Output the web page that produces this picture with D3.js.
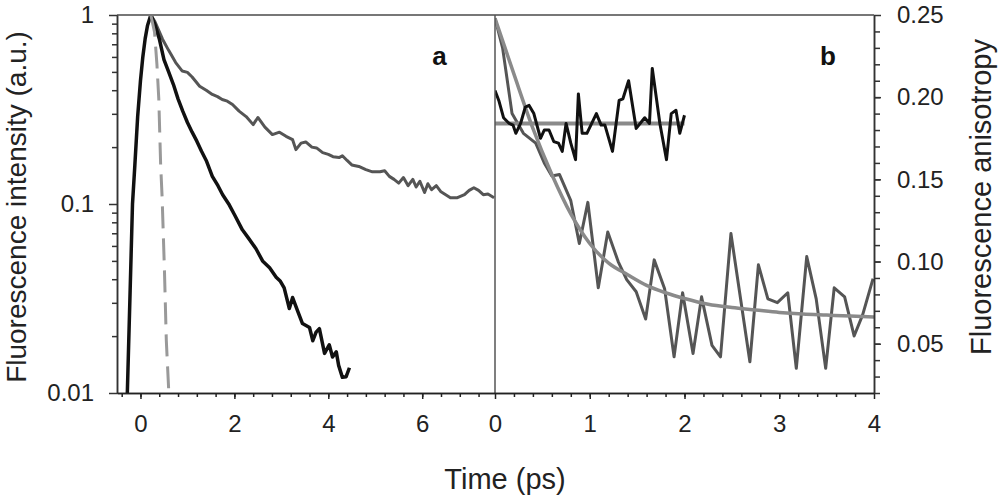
<!DOCTYPE html>
<html>
<head>
<meta charset="utf-8">
<script src="https://cdn.jsdelivr.net/npm/d3@7"></script>
<style>
  html, body { margin: 0; padding: 0; background: #fff; }
  svg { display: block; }
  text { font-family: "Liberation Sans", Arial, sans-serif; }
</style>
</head>
<body>
<svg id="chart" width="999" height="496"></svg>
<script>
// ---------------- DATA ----------------
// Panel a: fluorescence intensity decays (log scale)
const fastT = [-0.28,-0.22,-0.17,-0.12,-0.06,0.0,0.05,0.1,0.15,0.22,0.3,0.4,0.5,0.6,0.7,0.8,0.9,1.0,1.1,1.2,1.3,1.4,1.53,1.65,1.75,1.89,2.0,2.17,2.3,2.46,2.6,2.75,2.89,2.98,3.06,3.17,3.24,3.35,3.45,3.6,3.67,3.74,3.81,3.92,4.02,4.09,4.17,4.22,4.3,4.38,4.45];
const fastI = [0.01,0.035,0.1,0.16,0.29,0.45,0.6,0.75,0.88,1.0,0.9,0.75,0.58,0.5,0.43,0.36,0.31,0.27,0.24,0.215,0.19,0.17,0.14,0.125,0.112,0.099,0.088,0.073,0.066,0.058,0.05,0.046,0.041,0.039,0.036,0.028,0.032,0.027,0.0233,0.0222,0.0189,0.021,0.0219,0.0162,0.018,0.0155,0.0165,0.014,0.0121,0.0122,0.0136];

const slowT = [0.22,0.3,0.47,0.6,0.75,0.89,1.0,1.1,1.26,1.4,1.53,1.64,1.74,1.85,1.96,2.1,2.25,2.4,2.5,2.65,2.81,2.96,3.1,3.24,3.31,3.42,3.52,3.65,3.75,3.88,4.0,4.1,4.23,4.3,4.4,4.5,4.65,4.8,4.94,5.1,5.2,5.3,5.4,5.5,5.6,5.7,5.8,5.87,5.95,6.05,6.12,6.2,6.3,6.4,6.5,6.6,6.75,6.9,7.0,7.1,7.2,7.3,7.4,7.53];
const slowI = [1.0,0.93,0.745,0.65,0.56,0.505,0.497,0.47,0.42,0.40,0.38,0.37,0.357,0.35,0.336,0.31,0.29,0.263,0.287,0.255,0.233,0.24,0.228,0.219,0.194,0.21,0.213,0.2,0.198,0.187,0.183,0.178,0.176,0.18,0.17,0.161,0.158,0.152,0.148,0.148,0.15,0.14,0.135,0.129,0.138,0.125,0.135,0.123,0.132,0.115,0.128,0.119,0.125,0.116,0.112,0.108,0.108,0.112,0.118,0.122,0.118,0.112,0.113,0.108];

const irfT = [0.22,0.3,0.35,0.39,0.43,0.46,0.51,0.55,0.6,0.63];
const irfI = [1.0,0.81,0.55,0.36,0.16,0.11,0.045,0.019,0.0105,0.008];

// Panel b: fluorescence anisotropy
const anisoBlackT = [0,0.04,0.09,0.15,0.19,0.22,0.27,0.32,0.36,0.41,0.48,0.52,0.57,0.62,0.67,0.71,0.75,0.8,0.85,0.88,0.92,0.97,1.07,1.12,1.16,1.24,1.31,1.35,1.41,1.49,1.58,1.63,1.66,1.74,1.81,1.86,1.91,1.95,2.0];
const anisoBlackR = [0.204,0.198,0.1875,0.184,0.183,0.178,0.184,0.194,0.195,0.19,0.175,0.18,0.18,0.173,0.172,0.167,0.184,0.172,0.162,0.202,0.178,0.178,0.19,0.183,0.183,0.167,0.198,0.199,0.21,0.181,0.1875,0.184,0.2175,0.184,0.162,0.19,0.192,0.178,0.189];
const anisoBlackFitT = [0, 2];
const anisoBlackFitR = [0.184, 0.184];

const anisoGrayT = [0,0.08,0.18,0.3,0.43,0.52,0.6,0.68,0.8,0.89,0.98,1.09,1.19,1.3,1.39,1.49,1.59,1.68,1.79,1.89,1.98,2.09,2.18,2.29,2.38,2.49,2.69,2.78,2.88,2.98,3.09,3.18,3.29,3.39,3.49,3.58,3.69,3.79,3.88,3.99];
const anisoGrayR = [0.248,0.23,0.19,0.178,0.172,0.16,0.152,0.153,0.137,0.111,0.136,0.084,0.118,0.1,0.089,0.0816,0.065,0.101,0.0834,0.042,0.081,0.044,0.0785,0.049,0.042,0.117,0.039,0.098,0.0773,0.075,0.081,0.035,0.103,0.0773,0.035,0.084,0.0785,0.0547,0.0675,0.0896];
const anisoGrayFitT = [0,0.2,0.4,0.6,0.8,1.0,1.2,1.4,1.6,1.8,2.0,2.25,2.5,2.75,3.0,3.25,3.5,3.75,4.0];
const anisoGrayFitR = [0.248,0.214,0.181,0.153,0.129,0.111,0.099,0.092,0.0855,0.081,0.0775,0.074,0.072,0.0705,0.069,0.068,0.0674,0.0668,0.0663];

// Tick labels
const intensityTicks = [0.01, 0.1, 1];
const intensityTickLabels = ["0.01", "0.1", "1"];
const timeTicksA = [0, 2, 4, 6];
const timeTicksB = [0, 1, 2, 3, 4];
const anisoTicks = [0.05, 0.10, 0.15, 0.20, 0.25];
const anisoTickLabels = ["0.05", "0.10", "0.15", "0.20", "0.25"];

// ---------------- CHART ----------------
const svg = d3.select("#chart");
const L = 117, M = 495, R = 874, T = 15, B = 393;

const xA = d3.scaleLinear().domain([-0.5, 7.55]).range([L, M]);
const yA = d3.scaleLog().domain([0.01, 1]).range([B, T]);
const xB = d3.scaleLinear().domain([0, 4]).range([M, R]);
const yB = d3.scaleLinear().domain([0.02, 0.25]).range([B, T]);

const defs = svg.append("defs");
defs.append("clipPath").attr("id", "clipA").append("rect")
  .attr("x", L).attr("y", T).attr("width", M - L).attr("height", B - T);
defs.append("clipPath").attr("id", "clipB").append("rect")
  .attr("x", M).attr("y", T - 3).attr("width", R - M).attr("height", B - T + 3);

const zip = (a, b) => a.map((d, i) => [d, b[i]]);

// Panel a lines
const lineA = d3.line().x(d => xA(d[0])).y(d => yA(d[1]));
const gA = svg.append("g").attr("clip-path", "url(#clipA)");
gA.append("path").datum(zip(slowT, slowI)).attr("d", lineA)
  .attr("fill", "none").attr("stroke", "#555").attr("stroke-width", 3).attr("stroke-linejoin", "round");
gA.append("path").datum(zip(fastT, fastI)).attr("d", lineA)
  .attr("fill", "none").attr("stroke", "#111").attr("stroke-width", 3.5).attr("stroke-linejoin", "round");
gA.append("path").datum(zip(irfT, irfI)).attr("d", lineA)
  .attr("fill", "none").attr("stroke", "#999").attr("stroke-width", 3)
  .attr("stroke-dasharray", "22,10");

// Panel b lines
const lineB = d3.line().x(d => xB(d[0])).y(d => yB(d[1]));
const lineBsmooth = d3.line().x(d => xB(d[0])).y(d => yB(d[1])).curve(d3.curveMonotoneX);
const gB = svg.append("g").attr("clip-path", "url(#clipB)");
gB.append("path").datum(zip(anisoGrayT, anisoGrayR)).attr("d", lineB)
  .attr("fill", "none").attr("stroke", "#555").attr("stroke-width", 3).attr("stroke-linejoin", "round");
gB.append("path").datum(zip(anisoGrayFitT, anisoGrayFitR)).attr("d", lineBsmooth)
  .attr("fill", "none").attr("stroke", "#8a8a8a").attr("stroke-width", 3.5);
gB.append("path").datum(zip(anisoBlackFitT, anisoBlackFitR)).attr("d", lineB)
  .attr("fill", "none").attr("stroke", "#8a8a8a").attr("stroke-width", 4);
gB.append("path").datum(zip(anisoBlackT, anisoBlackR)).attr("d", lineB)
  .attr("fill", "none").attr("stroke", "#111").attr("stroke-width", 3).attr("stroke-linejoin", "round");

// Frame lines
svg.append("line").attr("x1", L).attr("x2", R).attr("y1", T).attr("y2", T)
  .attr("stroke", "#777").attr("stroke-width", 2);
svg.append("line").attr("x1", M).attr("x2", M).attr("y1", T).attr("y2", B)
  .attr("stroke", "#555").attr("stroke-width", 1.5);

function styleAxis(g, color) {
  g.select(".domain").attr("stroke", color).attr("stroke-width", 1.5);
  g.selectAll(".tick line").attr("stroke", color).attr("stroke-width", 1.5);
  g.selectAll(".tick text").attr("fill", "#222").style("font-size", "24px")
    .style("font-family", '"Liberation Sans", Arial, sans-serif');
}

// Left log axis
const minorLog = [];
[0.01, 0.1].forEach(dec => { for (let k = 2; k <= 9; k++) minorLog.push(dec * k); });
const gLeftMinor = svg.append("g").attr("transform", `translate(${L},0)`)
  .call(d3.axisLeft(yA).tickValues(minorLog).tickSize(5).tickSizeOuter(0).tickFormat(""));
styleAxis(gLeftMinor, "#333");
const gLeft = svg.append("g").attr("transform", `translate(${L},0)`)
  .call(d3.axisLeft(yA).tickValues(intensityTicks).tickSize(8).tickSizeOuter(0).tickPadding(15)
    .tickFormat((d, i) => intensityTickLabels[i]));
styleAxis(gLeft, "#333");

// Bottom axes
const minorA = d3.range(-0.4, 7.3, 0.4);
const gBotAminor = svg.append("g").attr("transform", `translate(0,${B})`)
  .call(d3.axisBottom(xA).tickValues(minorA).tickSize(4).tickSizeOuter(0).tickFormat(""));
styleAxis(gBotAminor, "#222");
const gBotA = svg.append("g").attr("transform", `translate(0,${B})`)
  .call(d3.axisBottom(xA).tickValues(timeTicksA).tickSize(6).tickSizeOuter(0).tickPadding(16)
    .tickFormat(d3.format("d")));
styleAxis(gBotA, "#222");

const minorB = d3.range(0.2, 4.0, 0.2);
const gBotBminor = svg.append("g").attr("transform", `translate(0,${B})`)
  .call(d3.axisBottom(xB).tickValues(minorB).tickSize(4).tickSizeOuter(0).tickFormat(""));
styleAxis(gBotBminor, "#222");
const gBotB = svg.append("g").attr("transform", `translate(0,${B})`)
  .call(d3.axisBottom(xB).tickValues(timeTicksB).tickSize(6).tickSizeOuter(0).tickPadding(16)
    .tickFormat(d3.format("d")));
styleAxis(gBotB, "#222");

// Right axis
const minorR = d3.range(0.02, 0.2451, 0.01);
const gRightMinor = svg.append("g").attr("transform", `translate(${R},0)`)
  .call(d3.axisRight(yB).tickValues(minorR).tickSize(6).tickSizeOuter(0).tickFormat(""));
styleAxis(gRightMinor, "#333");
const gRight = svg.append("g").attr("transform", `translate(${R},0)`)
  .call(d3.axisRight(yB).tickValues(anisoTicks).tickSize(7).tickSizeOuter(0).tickPadding(16)
    .tickFormat((d, i) => anisoTickLabels[i]));
styleAxis(gRight, "#333");

// Panel labels
svg.append("text").attr("x", 439.5).attr("y", 65).attr("text-anchor", "middle")
  .style("font-size", "26px").style("font-weight", "bold").attr("fill", "#111").text("a");
svg.append("text").attr("x", 828).attr("y", 65).attr("text-anchor", "middle")
  .style("font-size", "26px").style("font-weight", "bold").attr("fill", "#111").text("b");

// Axis titles
svg.append("text").attr("transform", "translate(26,207) rotate(-90)")
  .attr("text-anchor", "middle").style("font-size", "28px").attr("fill", "#222")
  .text("Fluorescence intensity (a.u.)");
svg.append("text").attr("transform", "translate(991,197) rotate(-90)")
  .attr("text-anchor", "middle").style("font-size", "29px").attr("fill", "#222")
  .text("Fluorescence anisotropy");
svg.append("text").attr("x", 505).attr("y", 489).attr("text-anchor", "middle")
  .style("font-size", "29px").attr("fill", "#222").text("Time (ps)");
</script>
</body>
</html>
